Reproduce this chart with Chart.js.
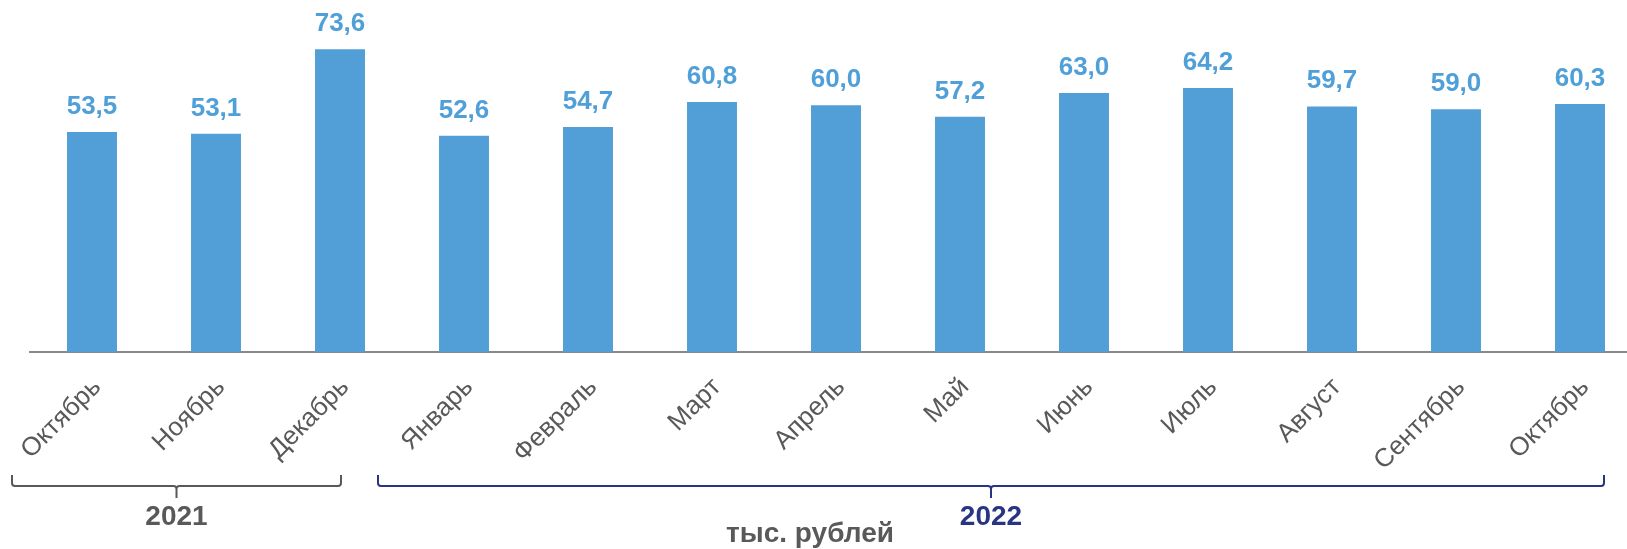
<!DOCTYPE html>
<html>
<head>
<meta charset="utf-8">
<script src="https://cdn.jsdelivr.net/npm/chart.js@4"></script>
<style>
  html, body { margin: 0; padding: 0; background: #fff; overflow: hidden; }
  #wrap { position: relative; width: 1642px; height: 549px; }
</style>
</head>
<body>
<div id="wrap"><canvas id="myChartSalarios"></canvas></div>
<script>
// Meses (octubre 2021 - octubre 2022)
var meses = ['Октябрь', 'Ноябрь', 'Декабрь', 'Январь', 'Февраль', 'Март', 'Апрель',
             'Май', 'Июнь', 'Июль', 'Август', 'Сентябрь', 'Октябрь'];
var salarios = [53.5, 53.1, 73.6, 52.6, 54.7, 60.8, 60.0, 57.2, 63.0, 64.2, 59.7, 59.0, 60.3];

// Grupos por año debajo del eje
var anios = ['2021', '2022'];
var anioInicio = [0, 3];
var anioFin = [2, 12];
var unidad = 'тыс. рублей';

var FUENTE = '"Liberation Sans", Arial, sans-serif';

// Etiquetas de valores encima de las barras
var etiquetasValores = {
    id: 'etiquetasValores',
    afterDatasetsDraw: function (chart) {
        var ctx = chart.ctx;
        var meta = chart.getDatasetMeta(0);
        ctx.save();
        ctx.font = 'bold 26px ' + FUENTE;
        ctx.fillStyle = '#4f9fd8';
        ctx.textAlign = 'center';
        ctx.textBaseline = 'alphabetic';
        meta.data.forEach(function (bar, i) {
            var txt = salarios[i].toFixed(1).replace('.', ',');
            ctx.fillText(txt, bar.x, bar.y - 18);
        });
        ctx.restore();
    }
};

// Llaves de los años + unidad
var llavesAnios = {
    id: 'llavesAnios',
    afterDraw: function (chart) {
        var ctx = chart.ctx;
        var x = chart.scales.x;
        var extras = [[-80, 1], [-86, 24]];
        var colores = ['#595959', '#283583'];
        var yTop = 475, yLine = 486, yTick = 498, r = 3;
        ctx.save();
        anios.forEach(function (anio, g) {
            var x0 = x.getPixelForValue(anioInicio[g]) + extras[g][0];
            var x1 = x.getPixelForValue(anioFin[g]) + extras[g][1];
            var xm = (x0 + x1) / 2;
            ctx.strokeStyle = colores[g];
            ctx.lineWidth = 2;
            ctx.beginPath();
            ctx.moveTo(x0, yTop);
            ctx.arcTo(x0, yLine, x0 + r, yLine, r);
            ctx.lineTo(xm - r, yLine);
            ctx.arcTo(xm, yLine, xm, yLine + r, r);
            ctx.lineTo(xm, yTick);
            ctx.moveTo(xm, yLine + r);
            ctx.arcTo(xm, yLine, xm + r, yLine, r);
            ctx.lineTo(x1 - r, yLine);
            ctx.arcTo(x1, yLine, x1, yTop, r);
            ctx.lineTo(x1, yTop);
            ctx.stroke();

            ctx.fillStyle = colores[g];
            ctx.font = 'bold 28px ' + FUENTE;
            ctx.textAlign = 'center';
            ctx.fillText(anio, xm, 525);
        });
        ctx.fillStyle = '#595959';
        ctx.font = 'bold 28px ' + FUENTE;
        ctx.textAlign = 'center';
        ctx.fillText(unidad, 810, 542);
        ctx.restore();
    }
};

var ctx = document.getElementById('myChartSalarios').getContext('2d');
window.myChart = new Chart(ctx, {
    type: 'bar',
    data: {
        labels: meses,
        datasets: [{
            label: 'Зарплата',
            data: salarios,
            backgroundColor: '#529fd7',
            barPercentage: 0.806,
            categoryPercentage: 0.5
        }]
    },
    options: {
        responsive: true,
        maintainAspectRatio: false,
        animation: false,
        layout: { padding: { top: 23, left: 30, right: 0, bottom: 0 } },
        plugins: {
            legend: { display: false },
            tooltip: { enabled: false }
        },
        scales: {
            x: {
                grid: { display: false },
                border: { display: true, color: '#898989', width: 2 },
                ticks: {
                    color: '#595959',
                    font: { family: FUENTE, size: 26 },
                    maxRotation: 45,
                    minRotation: 45,
                    padding: 12,
                    labelOffset: 5
                },
                // alto fijo del eje y sin relleno extra por las etiquetas giradas
                afterFit: function (s) {
                    s.height = 197;
                    s.paddingLeft = 0;
                    s.paddingRight = 0;
                }
            },
            y: {
                display: false,
                min: 0,
                max: 80
            }
        }
    },
    plugins: [etiquetasValores, llavesAnios]
});
</script>
</body>
</html>
